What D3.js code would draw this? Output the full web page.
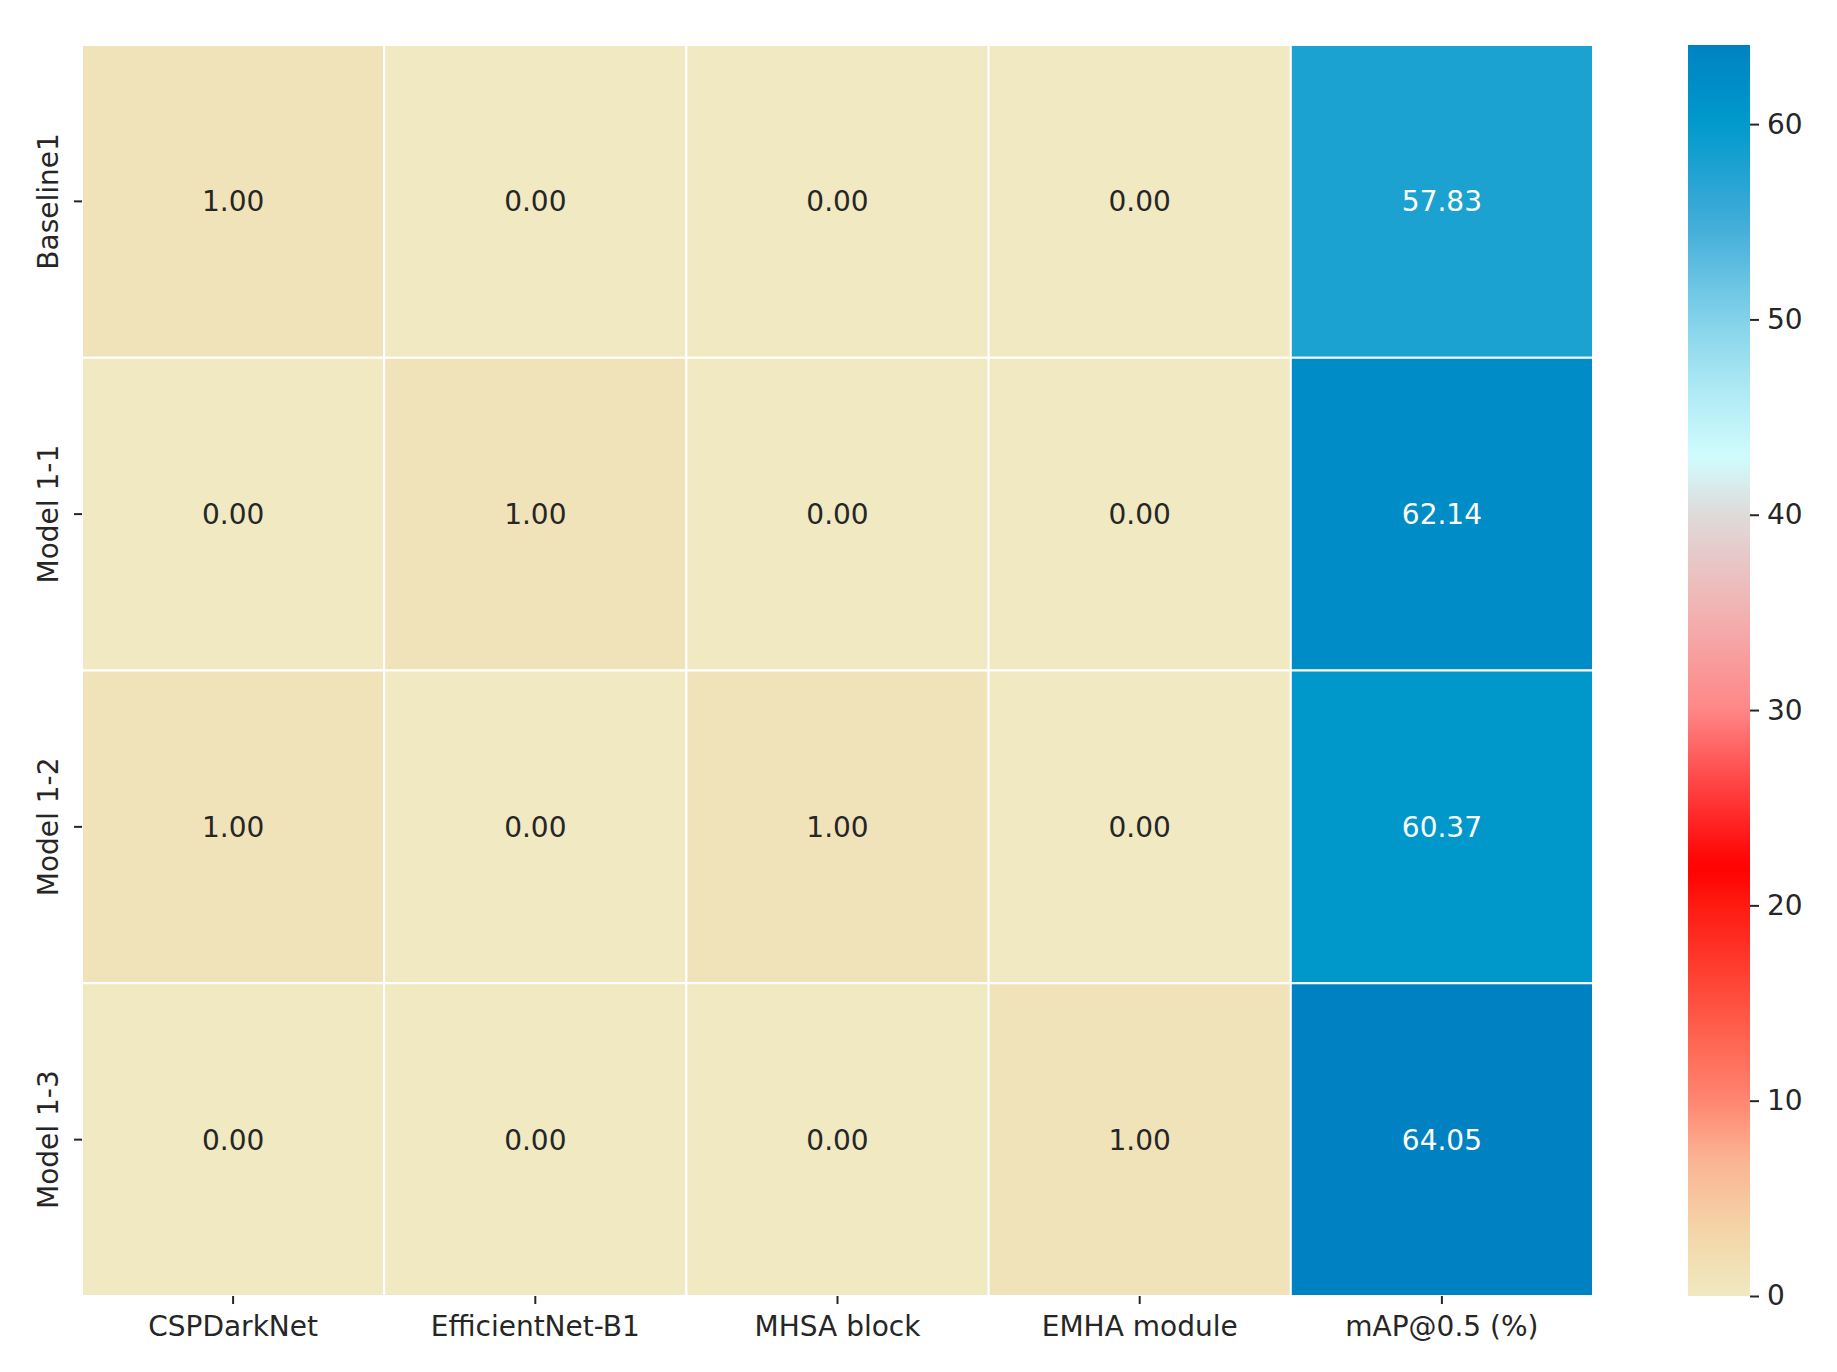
<!DOCTYPE html>
<html>
<head>
<meta charset="utf-8">
<script src="https://cdn.jsdelivr.net/npm/d3@7"></script>
<style>
  body { margin: 0; background: #fff; }
  text { font-family: "DejaVu Sans", sans-serif; }
</style>
</head>
<body>
<svg id="chart"></svg>
<script>
// Data
const rowLabels = ["Baseline1", "Model 1-1", "Model 1-2", "Model 1-3"];
const colLabels = ["CSPDarkNet", "EfficientNet-B1", "MHSA block", "EMHA module", "mAP@0.5 (%)"];
const cspdarknet = [1, 0, 1, 0];
const efficientnet = [0, 1, 0, 0];
const mhsa = [0, 0, 1, 0];
const emha = [0, 0, 0, 1];
const map05 = [57.83, 62.14, 60.37, 64.05];
const colorTicks = [0, 10, 20, 30, 40, 50, 60];

// colormap stops (value -> colour)
const stopValues = [0, 3, 7, 10, 15, 20, 22, 26, 30, 35, 40, 43, 47, 50, 55, 60, 64.05];
const stopColors = ["#f0e9c1", "#f3d8aa", "#fbb394", "#ff8670", "#ff5040", "#ff1a10", "#ff0000",
  "#ff4040", "#ff8686", "#f2b2b2", "#dfdada", "#d0fcfe", "#a8e6f2", "#82d2ea", "#40acd8", "#009acc", "#0082c2"];

const columns = [cspdarknet, efficientnet, mhsa, emha, map05];
const cells = [];
rowLabels.forEach((r, i) => {
  colLabels.forEach((c, j) => {
    cells.push({ row: r, col: c, value: columns[j][i] });
  });
});

const W = 1837, H = 1372;
const margin = { top: 45, left: 82 };
const width = 1511, height = 1251;
const fontSize = "28px";

const svg = d3.select("#chart").attr("width", W).attr("height", H);
const g = svg.append("g").attr("transform", `translate(${margin.left},${margin.top})`);

const x = d3.scaleBand().domain(colLabels).range([0, width]);
const y = d3.scaleBand().domain(rowLabels).range([0, height]);
const color = d3.scaleLinear().domain(stopValues).range(stopColors).clamp(true);

// cells
g.selectAll(".cell")
  .data(cells)
  .enter()
  .append("rect")
  .attr("class", "cell")
  .attr("x", d => x(d.col))
  .attr("y", d => y(d.row))
  .attr("width", x.bandwidth())
  .attr("height", y.bandwidth())
  .attr("fill", d => color(d.value))
  .attr("stroke", "#fff")
  .attr("stroke-width", 2);

// cell annotations
g.selectAll(".label")
  .data(cells)
  .enter()
  .append("text")
  .attr("x", d => x(d.col) + x.bandwidth() / 2)
  .attr("y", d => y(d.row) + y.bandwidth() / 2)
  .attr("dy", "0.36em")
  .attr("text-anchor", "middle")
  .style("font-size", fontSize)
  .attr("fill", d => d.value > 30 ? "#fff" : "#262626")
  .text(d => d.value.toFixed(2));

// x axis
const xAxis = g.append("g")
  .attr("transform", `translate(0,${height})`)
  .call(d3.axisBottom(x).tickSize(8).tickPadding(12));
xAxis.select(".domain").remove();
xAxis.selectAll(".tick line").attr("stroke", "#262626").attr("stroke-width", 2);
xAxis.selectAll("text").style("font-size", fontSize).attr("fill", "#262626")
  .attr("font-family", "DejaVu Sans");

// y axis
const yAxis = g.append("g")
  .call(d3.axisLeft(y).tickSize(8).tickPadding(0));
yAxis.select(".domain").remove();
yAxis.selectAll(".tick line").attr("stroke", "#262626").attr("stroke-width", 2);
yAxis.selectAll("text")
  .style("font-size", fontSize).attr("fill", "#262626")
  .attr("font-family", "DejaVu Sans")
  .attr("text-anchor", "middle")
  .attr("x", 0).attr("dy", 0)
  .attr("transform", "translate(-24,0) rotate(-90)");

// colour bar
const cbX = 1688, cbW = 62;
const cScale = d3.scaleLinear().domain([0, d3.max(map05)]).range([margin.top + height, margin.top]);
const defs = svg.append("defs");
const grad = defs.append("linearGradient")
  .attr("id", "cbgrad")
  .attr("x1", 0).attr("y1", 1).attr("x2", 0).attr("y2", 0);
const vmax = d3.max(map05);
d3.range(0, 101).forEach(k => {
  const v = vmax * k / 100;
  grad.append("stop").attr("offset", k + "%").attr("stop-color", color(v));
});
svg.append("rect")
  .attr("x", cbX)
  .attr("y", cScale(vmax))
  .attr("width", cbW)
  .attr("height", cScale(0) - cScale(vmax))
  .attr("fill", "url(#cbgrad)");

const cAxis = svg.append("g")
  .attr("transform", `translate(${cbX + cbW},0)`)
  .call(d3.axisRight(cScale).tickValues(colorTicks).tickSize(9).tickPadding(8));
cAxis.select(".domain").remove();
cAxis.selectAll(".tick line").attr("stroke", "#262626").attr("stroke-width", 2);
cAxis.selectAll("text").style("font-size", fontSize).attr("fill", "#262626")
  .attr("font-family", "DejaVu Sans");
</script>
</body>
</html>
